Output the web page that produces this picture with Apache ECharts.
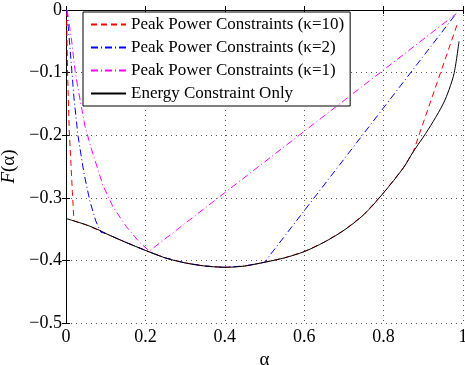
<!DOCTYPE html>
<html>
<head>
<meta charset="utf-8">
<script src="https://cdn.jsdelivr.net/npm/echarts@6/dist/echarts.min.js"></script>
<style>html,body{margin:0;padding:0;background:#fff}#c{width:465px;height:365px}</style>
</head>
<body>
<div id="c"></div>
<script>
var xTicks = [0, 0.2, 0.4, 0.6, 0.8, 1];
var yTicks = [-0.5, -0.4, -0.3, -0.2, -0.1, 0];
var seriesNames = ['Peak Power Constraints (\u03BA=10)', 'Peak Power Constraints (\u03BA=2)', 'Peak Power Constraints (\u03BA=1)', 'Energy Constraint Only'];

var energyOnly = [[0,-0.333],[0.02,-0.337],[0.05,-0.343],[0.085,-0.352],[0.1,-0.357],[0.15,-0.371],[0.2,-0.384],[0.25,-0.396],[0.3,-0.404],[0.35,-0.409],[0.4,-0.411],[0.45,-0.409],[0.5,-0.403],[0.55,-0.396],[0.6,-0.386],[0.65,-0.371],[0.7,-0.352],[0.75,-0.327],[0.8,-0.292],[0.85,-0.252],[0.875,-0.226],[0.9,-0.203],[0.925,-0.178],[0.95,-0.15],[0.965,-0.127],[0.978,-0.1],[0.99,-0.05]];

var peakK10 = [[0.0015,0],[0.004,-0.1],[0.008,-0.19],[0.012,-0.24],[0.016,-0.29],[0.02,-0.337],[0.05,-0.343],[0.1,-0.357],[0.15,-0.371],[0.2,-0.384],[0.25,-0.396],[0.3,-0.404],[0.35,-0.409],[0.4,-0.411],[0.45,-0.409],[0.5,-0.403],[0.55,-0.396],[0.6,-0.386],[0.65,-0.371],[0.7,-0.352],[0.75,-0.327],[0.8,-0.292],[0.85,-0.252],[0.875,-0.226],[0.987,-0.02]];

var peakK2 = [[0.002,0],[0.01,-0.06],[0.02,-0.14],[0.03,-0.2],[0.045,-0.26],[0.06,-0.305],[0.075,-0.337],[0.088,-0.355],[0.1,-0.357],[0.15,-0.371],[0.2,-0.384],[0.25,-0.396],[0.3,-0.404],[0.35,-0.409],[0.4,-0.411],[0.45,-0.409],[0.5,-0.403],[0.98,-0.008]];

var peakK1 = [[0.003,0],[0.014,-0.048],[0.0226,-0.096],[0.031,-0.128],[0.048,-0.186],[0.064,-0.222],[0.093,-0.28],[0.118,-0.314],[0.152,-0.346],[0.185,-0.371],[0.21,-0.385],[0.983,-0.006]];

var font = 'Liberation Serif';
var chart = echarts.init(document.getElementById('c'), null, {renderer: 'canvas'});

function yFmt(v) {
  if (Math.abs(v) < 1e-9) return '0';
  return '\u2212' + Math.abs(v).toFixed(1);
}
function xFmt(v) {
  if (Math.abs(v) < 1e-9) return '0';
  if (Math.abs(v - 1) < 1e-9) return '1';
  return v.toFixed(1);
}

var gridLine = {show: true, lineStyle: {color: '#555', type: [1, 4], width: 1}};
var axisLine = {show: true, lineStyle: {color: '#000', width: 1}};
var tick = {show: true, inside: true, length: 4, lineStyle: {color: '#000'}};

chart.setOption({
  animation: false,
  backgroundColor: '#fff',
  grid: {left: 66, right: 2, top: 10, bottom: 42, containLabel: false, outerBoundsMode: 'none'},
  legend: {
    orient: 'vertical', left: 83, top: 12,
    backgroundColor: '#fff', borderColor: '#000', borderWidth: 1,
    padding: [4, 6, 4, 7], itemGap: 6, itemWidth: 35, itemHeight: 14,
    itemStyle: {color: 'transparent', borderColor: 'transparent', borderWidth: 0, opacity: 0},
    textStyle: {fontFamily: font, fontSize: 17, color: '#000'},
    data: seriesNames
  },
  xAxis: [{
    type: 'value', min: 0, max: 1, interval: 0.2, position: 'bottom',
    name: '\u03B1', nameLocation: 'middle', nameGap: 25,
    nameTextStyle: {fontFamily: font, fontSize: 19, color: '#000'},
    axisLine: axisLine, axisTick: tick, splitLine: gridLine,
    axisLabel: {fontFamily: font, fontSize: 18, color: '#000', margin: 5, formatter: xFmt}
  }, {
    type: 'value', min: 0, max: 1, interval: 0.2, position: 'top',
    axisLine: axisLine, axisTick: tick, splitLine: {show: false}, axisLabel: {show: false}
  }],
  yAxis: [{
    type: 'value', min: -0.5, max: 0, interval: 0.1, position: 'left',
    name: '{i|F}(\u03B1)', nameLocation: 'middle', nameGap: 41, nameRotate: 90,
    nameTextStyle: {fontFamily: font, fontSize: 19, color: '#000', rich: {i: {fontFamily: font, fontStyle: 'italic', fontSize: 19}}},
    axisLine: axisLine, axisTick: tick, splitLine: gridLine,
    axisLabel: {fontFamily: font, fontSize: 18, color: '#000', margin: 4, formatter: yFmt}
  }, {
    type: 'value', min: -0.5, max: 0, interval: 0.1, position: 'right',
    axisLine: axisLine, axisTick: tick, splitLine: {show: false}, axisLabel: {show: false}
  }],
  series: [{
    name: seriesNames[0], type: 'line', data: peakK10, showSymbol: false, symbol: 'none',
    lineStyle: {color: '#ff0000', width: 1, type: [6, 4]}, itemStyle: {color: '#ff0000'}, z: 2
  }, {
    name: seriesNames[1], type: 'line', data: peakK2, showSymbol: false, symbol: 'none',
    lineStyle: {color: '#0000ff', width: 1, type: [7, 3, 1, 3]}, itemStyle: {color: '#0000ff'}, z: 3
  }, {
    name: seriesNames[2], type: 'line', data: peakK1, showSymbol: false, symbol: 'none',
    lineStyle: {color: '#ff00ff', width: 1, type: [7, 3, 1, 3]}, itemStyle: {color: '#ff00ff'}, z: 4
  }, {
    name: seriesNames[3], type: 'line', data: energyOnly, showSymbol: false, symbol: 'none', smooth: 0.3,
    lineStyle: {color: '#000', width: 1, type: 'solid'}, itemStyle: {color: '#000'}, z: 5
  }]
});
</script>
</body>
</html>
